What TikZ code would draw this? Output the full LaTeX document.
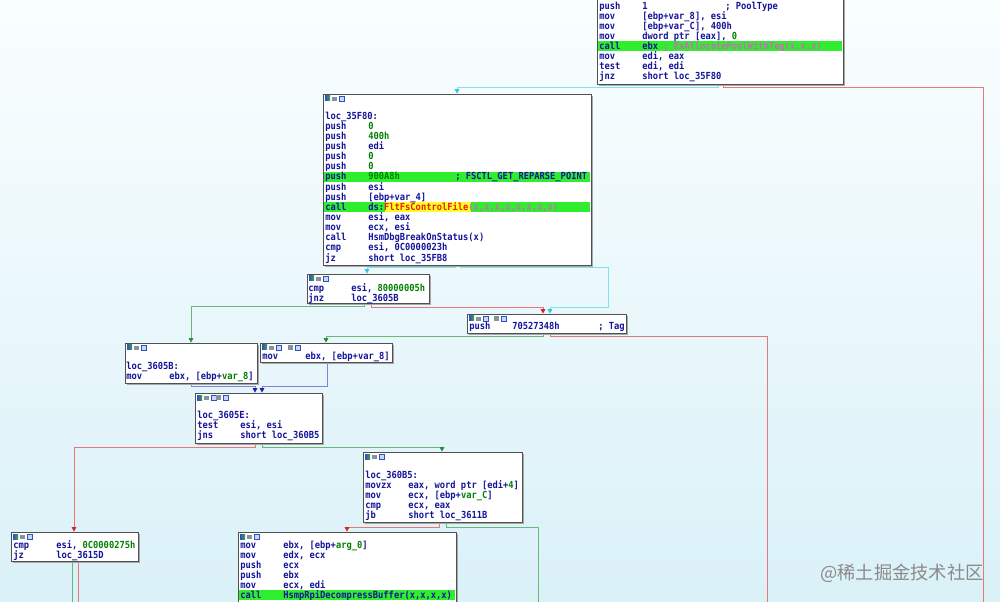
\documentclass[tikz,border=0pt]{standalone}
\usepackage{fontspec}
\usetikzlibrary{fit,arrows.meta,shadows}
\newfontfamily\asmfont{DejaVu Sans Mono}[FakeStretch=0.9]
\newfontfamily\cjkfont{Noto Sans CJK SC}
\definecolor{navy}{HTML}{14149A}
\definecolor{numgreen}{HTML}{008000}
\definecolor{hlgreen}{HTML}{2EEE2E}
\definecolor{impink}{HTML}{D068C0}
\definecolor{fnred}{HTML}{F01818}
\definecolor{hlyellow}{HTML}{FFFF20}
\definecolor{bordergray}{HTML}{505050}
\definecolor{shadowgray}{HTML}{A8A8A8}
\definecolor{cyanline}{HTML}{80E4F0}
\definecolor{cyantip}{HTML}{30C8E0}
\definecolor{redline}{HTML}{E87878}
\definecolor{redtip}{HTML}{E02020}
\definecolor{greenline}{HTML}{68B878}
\definecolor{greentip}{HTML}{209040}
\definecolor{blueline}{HTML}{8080E8}
\definecolor{bluetip}{HTML}{2020B0}
\definecolor{bgtop}{HTML}{FAFEFF}
\definecolor{bgbot}{HTML}{DAF1F8}
\definecolor{wmgray}{HTML}{8A8A8A}
\definecolor{iconblue}{HTML}{3050C0}
\definecolor{icongreen}{HTML}{40A050}
\definecolor{icongray}{HTML}{8890A0}
\definecolor{iconlight}{HTML}{C8D8F8}
\pgfdeclarelayer{bg}
\pgfdeclarelayer{edges}
\pgfsetlayers{bg,edges,main}
\newcounter{asmln}
\newcommand\al[3]{\stepcounter{asmln}\node[asm] (t\arabic{asmln}) at (#1,{#2+3.2}) {#3};}
\newcommand\op[2]{\makebox[32.25pt][l]{#1}#2}
\newcommand\nm[1]{\textcolor{numgreen}{#1}}
\newcommand\icons[2]{%
  \fill[left color=iconblue, right color=icongreen] (#1+2,#2+2) rectangle (#1+7,#2+7);
  \fill[icongray] (#1+9,#2+3) rectangle (#1+14,#2+7);
  \draw[iconblue, line width=0.4pt, fill=iconlight] (#1+16,#2+2) rectangle (#1+21,#2+7);}
\newcommand\xicons[2]{%
  \fill[icongray] (#1,#2+2) rectangle (#1+5,#2+7);
  \draw[iconblue, line width=0.4pt, fill=iconlight] (#1+7,#2+2) rectangle (#1+12,#2+7);}
\tikzset{
  block/.style={draw=bordergray, line width=0.5pt, fill=white, inner sep=0pt,
    drop shadow={shadow xshift=1.5pt, shadow yshift=-1.5pt, fill=shadowgray, opacity=1}},
  asm/.style={anchor=base west, inner sep=0pt, text=navy,
    font=\asmfont\bfseries\fontsize{7.3}{7.5}\selectfont},
  tipc/.style={-{Triangle[width=3.4pt,length=3.4pt,color=#1,fill=#1]}},
  cyedge/.style={draw=cyanline, line width=0.75pt, tipc=cyantip},
  rdedge/.style={draw=redline, line width=0.75pt, tipc=redtip},
  gnedge/.style={draw=greenline, line width=0.75pt, tipc=greentip},
  bledge/.style={draw=blueline, line width=0.75pt, tipc=bluetip},
  rdfree/.style={draw=redline, line width=0.75pt},
  gnfree/.style={draw=greenline, line width=0.75pt},
  hl/.style={fill=hlgreen},
}
\begin{document}
\begin{tikzpicture}[x=0.75pt,y=-0.75pt]
\useasboundingbox (0,0) rectangle (1000,602);
\begin{pgfonlayer}{bg}
\fill[top color=bgtop, bottom color=bgbot] (0,0) rectangle (1000,602);
\end{pgfonlayer}

% blocks
\node[block, fit={(597,-20) (843,84)}] (b1) {};
\node[block, fit={(323,94) (591,265)}] (b2) {};
\node[block, fit={(307,274) (429,303)}] (b3) {};
\node[block, fit={(467,314) (626,333)}] (b4) {};
\node[block, fit={(125,343) (257,383)}] (b5) {};
\node[block, fit={(260,343) (392,362)}] (b6) {};
\node[block, fit={(195,393) (322,443)}] (b7) {};
\node[block, fit={(363,452) (522,522)}] (b8) {};
\node[block, fit={(11,532) (138,561)}] (b9) {};
\node[block, fit={(238,532) (456,640)}] (b10) {};

% highlights
\fill[hl] (598,41) rectangle (842,51);
\fill[hl] (324,171.8) rectangle (590,181.8);
\fill[hl] (324,202.3) rectangle (590,212.3);
\fill[hlyellow] (385,202.3) rectangle (471,212.3);
\fill[hl] (239,590) rectangle (455,600);

% icons
\icons{323}{94}\icons{307}{274}\icons{467}{314}\xicons{494}{314}
\icons{125}{343}\icons{260}{343}\xicons{288}{343}
\icons{195}{393}\xicons{216}{393}\icons{363}{452}\icons{11}{532}\icons{238}{532}

% block 1
\al{599}{6}{\op{push}{1}}
\al{725}{6}{; PoolType}
\al{599}{16}{\op{mov}{[ebp+var\_8], esi}}
\al{599}{26}{\op{mov}{[ebp+var\_C], 400h}}
\al{599}{36}{\op{mov}{dword ptr [eax], \nm{0}}}
\al{599}{46}{\op{call}{ebx \textcolor{impink}{; ExAllocatePoolWithTag(x,x,x)}}}
\al{599}{56}{\op{mov}{edi, eax}}
\al{599}{66}{\op{test}{edi, edi}}
\al{599}{76}{\op{jnz}{short loc\_35F80}}

% block 2
\begin{scope}
\clip (323,94) rectangle (591,265);
\al{325}{116}{loc\_35F80:}
\al{325}{126.1}{\op{push}{\nm{0}}}
\al{325}{136.3}{\op{push}{\nm{400h}}}
\al{325}{146.4}{\op{push}{edi}}
\al{325}{156.6}{\op{push}{\nm{0}}}
\al{325}{166.7}{\op{push}{\nm{0}}}
\al{325}{176.8}{\op{push}{\nm{900A8h}}}
\al{455}{176.8}{; FSCTL\_GET\_REPARSE\_POINT}
\al{325}{187}{\op{push}{esi}}
\al{325}{197.1}{\op{push}{[ebp+var\_4]}}
\al{325}{207.3}{\op{call}{ds:\textcolor{fnred}{FltFsControlFile}\textcolor{impink}{(x,x,x,x,x,x,x,x)}}}
\al{325}{217.4}{\op{mov}{esi, eax}}
\al{325}{227.5}{\op{mov}{ecx, esi}}
\al{325}{237.7}{\op{call}{HsmDbgBreakOnStatus(x)}}
\al{325}{247.8}{\op{cmp}{esi, 0C0000023h}}
\al{325}{258}{\op{jz}{short loc\_35FB8}}
\end{scope}

% block 3
\al{308}{288}{\op{cmp}{esi, \nm{80000005h}}}
\al{308}{298}{\op{jnz}{loc\_3605B}}
% block 4
\al{469}{326}{\op{push}{70527348h}}
\al{598}{326}{; Tag}
% block 5
\al{126}{366}{loc\_3605B:}
\al{126}{376}{\op{mov}{ebx, [ebp+\nm{var\_8}]}}
% block 6
\al{262}{356}{\op{mov}{ebx, [ebp+var\_8]}}
% block 7
\al{197}{415}{loc\_3605E:}
\al{197}{425}{\op{test}{esi, esi}}
\al{197}{435}{\op{jns}{short loc\_360B5}}
% block 8
\al{365}{475}{loc\_360B5:}
\al{365}{485}{\op{movzx}{eax, word ptr [edi+\nm{4}]}}
\al{365}{495}{\op{mov}{ecx, [ebp+\nm{var\_C}]}}
\al{365}{505}{\op{cmp}{ecx, eax}}
\al{365}{515}{\op{jb}{short loc\_3611B}}
% block 9
\al{13}{545}{\op{cmp}{esi, \nm{0C0000275h}}}
\al{13}{555}{\op{jz}{loc\_3615D}}
% block 10
\al{240}{545}{\op{mov}{ebx, [ebp+\nm{arg\_0}]}}
\al{240}{555}{\op{mov}{edx, ecx}}
\al{240}{565}{\op{push}{ecx}}
\al{240}{575}{\op{push}{ebx}}
\al{240}{585}{\op{mov}{ecx, edi}}
\al{240}{595}{\op{call}{HsmpRpiDecompressBuffer(x,x,x,x)}}

% free ends
\coordinate (r1) at (983,610);
\coordinate (r2) at (767,610);
\coordinate (g1) at (538,610);
\coordinate (g2) at (72,610);
\coordinate (r3) at (78,610);

\begin{pgfonlayer}{edges}
\draw[cyedge] (b1.south -| 718,0) -- (718,88) -| (b2.north -| 457,0);
\draw[rdfree] (b1.south -| 723,0) -- (723,88) -| (r1);
\draw[cyedge] (b2.south -| 455,0) -- (455,268) -| (b3.north -| 367,0);
\draw[cyedge] (b2.south -| 460,0) -- (460,268) -| (608,308) -| (b4.north -| 550,0);
\draw[gnedge] (b3.south -| 364,0) -- (364,307) -| (b5.north -| 191,0);
\draw[rdedge] (b3.south -| 371,0) -- (371,308) -| (b4.north -| 543,0);
\draw[gnedge] (b4.south -| 543,0) -- (543,337) -| (b6.north -| 326,0);
\draw[rdfree] (b4.south -| 550,0) -- (550,337) -| (r2);
\draw[bledge] (b5.south -| 191,0) -- (191,387) -| (b7.north -| 255,0);
\draw[bledge] (b6.south -| 327,0) -- (327,387) -| (b7.north -| 262,0);
\draw[rdedge] (b7.south -| 255,0) -- (255,447) -| (b9.north -| 74,0);
\draw[gnedge] (b7.south -| 262,0) -- (262,447) -| (b8.north -| 442,0);
\draw[rdedge] (b8.south -| 439,0) -- (439,527) -| (b10.north -| 347,0);
\draw[gnfree] (b8.south -| 446,0) -- (446,527) -| (g1);
\draw[gnfree] (b9.south -| 72,0) -- (g2);
\draw[rdfree] (b9.south -| 78,0) -- (r3);
\end{pgfonlayer}

\node[font=\cjkfont\fontsize{13.7}{14}\selectfont, text=wmgray, inner sep=0pt] (wm) at (902,573) {@稀土掘金技术社区};
\end{tikzpicture}
\end{document}
